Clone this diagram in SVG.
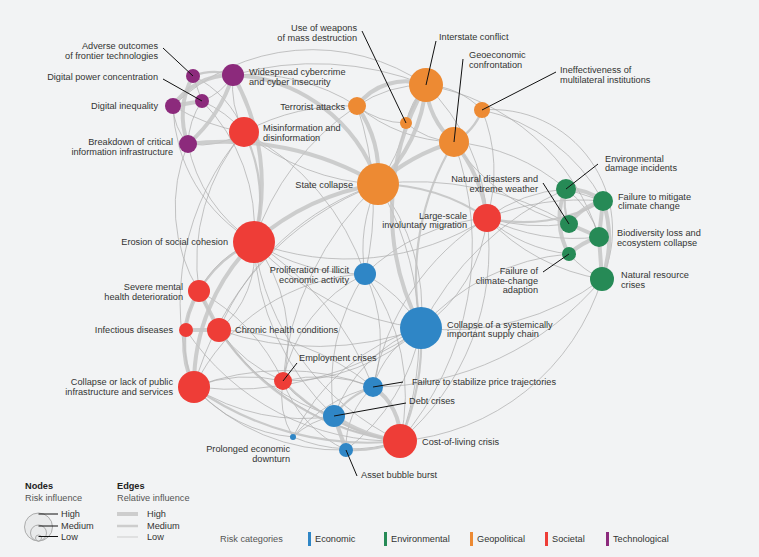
<svg xmlns="http://www.w3.org/2000/svg" width="759" height="557" viewBox="0 0 759 557">
<style>
text{font-family:"Liberation Sans",Arial,sans-serif;font-size:9.2px;fill:#333}
.e{text-anchor:end}
.b{font-weight:bold;fill:#222}
.g{fill:#555}
.s{stroke:#a9a9a9;stroke-width:0.9;fill:none;opacity:0.75}
.m{stroke:#c2c2c2;stroke-width:2.2;fill:none;opacity:0.85}
.t{stroke:#c6c6c6;stroke-width:4;fill:none;opacity:0.85}
.ld{stroke:#111;stroke-width:1;fill:none}
.ec{fill:#2f86c6}.en{fill:#268a56}.ge{fill:#ed8a33}.so{fill:#ee3d37}.te{fill:#8c2a7c}
</style>
<rect width="759" height="557" fill="#f2f3f4"/>
<g id="connectors" stroke-linecap="round">
<path class="s" d="M233,75 A300,300 0 0 1 426,85"/>
<path class="s" d="M173,106 A200,200 0 0 1 426,85"/>
<path class="s" d="M233,75 A200,200 0 0 1 357,106"/>
<path class="s" d="M244,132 A220,220 0 0 1 357,106"/>
<path class="s" d="M244,132 A220,220 0 0 0 378,184"/>
<path class="s" d="M244,132 A250,250 0 0 1 365,274"/>
<path class="s" d="M244,132 A200,200 0 0 0 199,291"/>
<path class="s" d="M244,132 A260,260 0 0 0 194,387"/>
<path class="s" d="M188,144 A160,160 0 0 0 199,291"/>
<path class="s" d="M188,144 A150,150 0 0 0 254,242"/>
<path class="s" d="M173,106 A160,160 0 0 0 254,242"/>
<path class="s" d="M202,101 A120,120 0 0 1 244,132"/>
<path class="s" d="M202,101 A180,180 0 0 1 254,242"/>
<path class="s" d="M193,76 A100,100 0 0 1 244,132"/>
<path class="s" d="M173,106 A60,60 0 0 0 188,144"/>
<path class="s" d="M193,76 L202,101"/>
<path class="s" d="M202,101 A80,80 0 0 0 188,144"/>
<path class="s" d="M202,101 A60,60 0 0 0 233,75"/>
<path class="s" d="M173,106 A200,200 0 0 0 244,132"/>
<path class="s" d="M357,106 A300,300 0 0 1 365,274"/>
<path class="s" d="M357,106 A260,260 0 0 0 254,242"/>
<path class="s" d="M357,106 A160,160 0 0 0 454,142"/>
<path class="s" d="M357,106 A80,80 0 0 0 406,123"/>
<path class="s" d="M406,123 A150,150 0 0 1 378,184"/>
<path class="s" d="M406,123 A80,80 0 0 0 454,142"/>
<path class="s" d="M406,123 A80,80 0 0 1 426,85"/>
<path class="s" d="M426,85 A200,200 0 0 1 487,218"/>
<path class="s" d="M426,85 A80,80 0 0 1 482,110"/>
<path class="s" d="M482,110 A160,160 0 0 1 487,218"/>
<path class="s" d="M482,110 A120,120 0 0 1 602,279"/>
<path class="s" d="M482,110 A180,180 0 0 1 603,201"/>
<path class="s" d="M426,85 A220,220 0 0 1 599,237"/>
<path class="s" d="M454,142 A200,200 0 0 1 566,189"/>
<path class="s" d="M454,142 A200,200 0 0 0 569,224"/>
<path class="s" d="M487,218 A150,150 0 0 1 566,189"/>
<path class="s" d="M487,218 A250,250 0 0 1 603,201"/>
<path class="s" d="M487,218 A200,200 0 0 0 569,224"/>
<path class="s" d="M487,218 A200,200 0 0 0 599,237"/>
<path class="s" d="M487,218 A150,150 0 0 0 569,254"/>
<path class="s" d="M487,218 A200,200 0 0 0 602,279"/>
<path class="s" d="M378,184 A300,300 0 0 1 569,224"/>
<path class="s" d="M421,328 A220,220 0 0 1 569,254"/>
<path class="s" d="M421,328 A250,250 0 0 0 602,279"/>
<path class="s" d="M400,441 A230,230 0 0 0 602,279"/>
<path class="s" d="M421,328 A150,150 0 0 0 487,218"/>
<path class="s" d="M365,274 A200,200 0 0 1 487,218"/>
<path class="s" d="M254,242 A260,260 0 0 0 487,218"/>
<path class="s" d="M254,242 A200,200 0 0 0 365,274"/>
<path class="s" d="M254,242 A260,260 0 0 0 421,328"/>
<path class="s" d="M254,242 A160,160 0 0 1 283,381"/>
<path class="s" d="M254,242 A250,250 0 0 0 334,416"/>
<path class="s" d="M254,242 A300,300 0 0 1 373,387"/>
<path class="s" d="M254,242 A100,100 0 0 1 219,330"/>
<path class="s" d="M378,184 A150,150 0 0 0 365,274"/>
<path class="s" d="M378,184 A200,200 0 0 1 421,328"/>
<path class="s" d="M378,184 A300,300 0 0 0 283,381"/>
<path class="s" d="M378,184 A300,300 0 0 0 194,387"/>
<path class="s" d="M378,184 A300,300 0 0 1 400,441"/>
<path class="s" d="M365,274 A150,150 0 0 1 421,328"/>
<path class="s" d="M365,274 A150,150 0 0 0 283,381"/>
<path class="s" d="M365,274 A200,200 0 0 0 334,416"/>
<path class="s" d="M365,274 A200,200 0 0 1 400,441"/>
<path class="s" d="M365,274 A150,150 0 0 1 373,387"/>
<path class="s" d="M421,328 A200,200 0 0 1 283,381"/>
<path class="s" d="M421,328 A150,150 0 0 0 334,416"/>
<path class="s" d="M421,328 A100,100 0 0 0 373,387"/>
<path class="s" d="M421,328 A200,200 0 0 1 346,450"/>
<path class="s" d="M421,328 A300,300 0 0 1 219,330"/>
<path class="s" d="M421,328 A320,320 0 0 1 194,387"/>
<path class="s" d="M219,330 A150,150 0 0 0 283,381"/>
<path class="s" d="M219,330 A200,200 0 0 0 334,416"/>
<path class="s" d="M219,330 A250,250 0 0 1 373,387"/>
<path class="s" d="M194,387 A150,150 0 0 1 283,381"/>
<path class="s" d="M194,387 A200,200 0 0 0 334,416"/>
<path class="s" d="M194,387 A200,200 0 0 0 346,450"/>
<path class="s" d="M194,387 A250,250 0 0 1 373,387"/>
<path class="s" d="M194,387 A150,150 0 0 0 293,437"/>
<path class="s" d="M199,291 A200,200 0 0 1 283,381"/>
<path class="s" d="M199,291 A250,250 0 0 0 400,441"/>
<path class="s" d="M199,291 A100,100 0 0 1 254,242"/>
<path class="s" d="M186,330 A80,80 0 0 1 199,291"/>
<path class="s" d="M186,330 A100,100 0 0 0 194,387"/>
<path class="s" d="M186,330 A250,250 0 0 0 400,441"/>
<path class="s" d="M283,381 A150,150 0 0 1 373,387"/>
<path class="s" d="M283,381 A100,100 0 0 0 334,416"/>
<path class="s" d="M283,381 A80,80 0 0 0 293,437"/>
<path class="s" d="M283,381 A120,120 0 0 0 346,450"/>
<path class="s" d="M293,437 A80,80 0 0 1 334,416"/>
<path class="s" d="M293,437 A150,150 0 0 0 400,441"/>
<path class="s" d="M293,437 A150,150 0 0 1 373,387"/>
<path class="s" d="M293,437 A200,200 0 0 1 421,328"/>
<path class="s" d="M373,387 A80,80 0 0 0 346,450"/>
<path class="s" d="M487,218 A250,250 0 0 1 400,441"/>
<path class="s" d="M454,142 A300,300 0 0 1 400,441"/>
<path class="s" d="M254,242 A260,260 0 0 0 400,441"/>
<path class="s" d="M426,85 A120,120 0 0 0 357,106"/>
<path class="s" d="M244,132 A100,100 0 0 1 233,75"/>
<path class="s" d="M188,144 A80,80 0 0 0 244,132"/>
<path class="s" d="M378,184 A260,260 0 0 0 219,330"/>
<path class="s" d="M365,274 A200,200 0 0 0 194,387"/>
<path class="s" d="M487,218 A250,250 0 0 0 373,387"/>
<path class="s" d="M566,189 A300,300 0 0 0 421,328"/>
<path class="s" d="M602,279 A300,300 0 0 1 373,387"/>
<path class="s" d="M566,189 L603,201"/>
<path class="s" d="M569,254 A100,100 0 0 0 602,279"/>
<path class="s" d="M566,189 A90,90 0 0 1 599,237"/>
<path class="m" d="M378,184 A200,200 0 0 1 487,218"/>
<path class="m" d="M454,142 A260,260 0 0 0 421,328"/>
<path class="m" d="M454,142 A60,60 0 0 0 482,110"/>
<path class="m" d="M219,330 A250,250 0 0 0 400,441"/>
<path class="m" d="M283,381 A200,200 0 0 0 400,441"/>
<path class="m" d="M194,387 A300,300 0 0 0 400,441"/>
<path class="m" d="M334,416 A80,80 0 0 1 373,387"/>
<path class="m" d="M346,450 A120,120 0 0 0 400,441"/>
<path class="m" d="M406,123 A150,150 0 0 1 426,85"/>
<path class="m" d="M193,76 A60,60 0 0 1 233,75"/>
<path class="m" d="M421,328 A250,250 0 0 1 400,441"/>
<path class="m" d="M244,132 A150,150 0 0 1 254,242"/>
<path class="m" d="M254,242 A120,120 0 0 0 199,291"/>
<path class="m" d="M566,189 A60,60 0 0 0 569,224"/>
<path class="m" d="M487,218 A160,160 0 0 0 603,201"/>
<path class="t" d="M357,106 A60,60 0 0 1 426,85"/>
<path class="t" d="M357,106 A120,120 0 0 1 378,184"/>
<path class="t" d="M426,85 A150,150 0 0 1 378,184"/>
<path class="t" d="M426,85 A80,80 0 0 0 454,142"/>
<path class="t" d="M378,184 A200,200 0 0 1 454,142"/>
<path class="t" d="M378,184 A250,250 0 0 0 254,242"/>
<path class="t" d="M233,75 A220,220 0 0 1 254,242"/>
<path class="t" d="M173,106 A70,70 0 0 1 233,75"/>
<path class="t" d="M188,144 A150,150 0 0 0 233,75"/>
<path class="t" d="M193,76 A80,80 0 0 0 188,144"/>
<path class="t" d="M173,106 L202,101"/>
<path class="t" d="M254,242 A200,200 0 0 0 194,387"/>
<path class="t" d="M199,291 A100,100 0 0 0 194,387"/>
<path class="t" d="M186,330 L219,330"/>
<path class="t" d="M199,291 L219,330"/>
<path class="t" d="M426,85 A250,250 0 0 0 421,328"/>
<path class="t" d="M454,142 A150,150 0 0 1 487,218"/>
<path class="t" d="M334,416 A150,150 0 0 0 400,441"/>
<path class="t" d="M373,387 A60,60 0 0 1 400,441"/>
<path class="t" d="M334,416 L346,450"/>
<path class="t" d="M569,224 A60,60 0 0 1 603,201"/>
<path class="t" d="M569,224 L599,237"/>
<path class="t" d="M599,237 L603,201"/>
<path class="t" d="M603,201 A120,120 0 0 1 602,279"/>
<path class="t" d="M599,237 L602,279"/>
<path class="t" d="M569,254 A80,80 0 0 1 599,237"/>
<path class="t" d="M566,189 A70,70 0 0 0 569,254"/>
<path class="t" d="M566,189 A60,60 0 0 1 603,201"/>
<path class="t" d="M188,144 A300,300 0 0 1 378,184"/>
<path class="t" d="M233,75 A160,160 0 0 1 378,184"/>
</g>
<g id="n-aoft"><circle class="te" cx="193" cy="76" r="7"/><path class="ld" d="M163,48 L193,76"/><text class="e" x="158" y="49">Adverse outcomes</text><text class="e" x="158" y="58.5">of frontier technologies</text></g>
<g id="n-cyb"><circle class="te" cx="233" cy="75" r="11"/><text x="249" y="75">Widespread cybercrime</text><text x="249" y="84.5">and cyber insecurity</text></g>
<g id="n-dpc"><circle class="te" cx="202" cy="101" r="7"/><path class="ld" d="M163,79 L202,101"/><text class="e" x="158" y="80">Digital power concentration</text></g>
<g id="n-din"><circle class="te" cx="173" cy="106" r="8"/><text class="e" x="158" y="109">Digital inequality</text></g>
<g id="n-bci"><circle class="te" cx="188" cy="144" r="9"/><text class="e" x="173" y="145">Breakdown of critical</text><text class="e" x="173" y="154.5">information infrastructure</text></g>
<g id="n-mis"><circle class="so" cx="244" cy="132" r="15"/><text x="263" y="131">Misinformation and</text><text x="263" y="140.5">disinformation</text></g>
<g id="n-ter"><circle class="ge" cx="357" cy="106" r="9"/><text class="e" x="345" y="110">Terrorist attacks</text></g>
<g id="n-wmd"><circle class="ge" cx="406" cy="123" r="6"/><path class="ld" d="M362,31 L406,123"/><text class="e" x="357" y="31">Use of weapons</text><text class="e" x="357" y="40.5">of mass destruction</text></g>
<g id="n-int"><circle class="ge" cx="426" cy="85" r="17"/><path class="ld" d="M436,41 L426,85"/><text x="439" y="40">Interstate conflict</text></g>
<g id="n-geo"><circle class="ge" cx="454" cy="142" r="15"/><path class="ld" d="M463,59 L454,142"/><text x="469" y="58">Geoeconomic</text><text x="469" y="67.5">confrontation</text></g>
<g id="n-imi"><circle class="ge" cx="482" cy="110" r="8"/><path class="ld" d="M556,72 L482,110"/><text x="560" y="73">Ineffectiveness of</text><text x="560" y="82.5">multilateral institutions</text></g>
<g id="n-sta"><circle class="ge" cx="378" cy="184" r="21"/><text class="e" x="353" y="187.5">State collapse</text></g>
<g id="n-mig"><circle class="so" cx="487" cy="218" r="14"/><text class="e" x="467" y="218.5">Large-scale</text><text class="e" x="467" y="228">involuntary migration</text></g>
<g id="n-edi"><circle class="en" cx="566" cy="189" r="10"/><path class="ld" d="M598,164 L566,189"/><text x="605" y="161.5">Environmental</text><text x="605" y="171">damage incidents</text></g>
<g id="n-fmc"><circle class="en" cx="603" cy="201" r="10"/><text x="618" y="199.5">Failure to mitigate</text><text x="618" y="209">climate change</text></g>
<g id="n-nde"><circle class="en" cx="569" cy="224" r="9"/><path class="ld" d="M543,183 L569,224"/><text class="e" x="538" y="182">Natural disasters and</text><text class="e" x="538" y="191.5">extreme weather</text></g>
<g id="n-bio"><circle class="en" cx="599" cy="237" r="10"/><text x="617" y="236">Biodiversity loss and</text><text x="617" y="245.5">ecosystem collapse</text></g>
<g id="n-fca"><circle class="en" cx="569" cy="254" r="7"/><path class="ld" d="M543,272 L569,254"/><text class="e" x="538" y="274">Failure of</text><text class="e" x="538" y="283.5">climate-change</text><text class="e" x="538" y="293">adaption</text></g>
<g id="n-nrc"><circle class="en" cx="602" cy="279" r="12"/><text x="621" y="278">Natural resource</text><text x="621" y="287.5">crises</text></g>
<g id="n-ero"><circle class="so" cx="254" cy="242" r="21"/><text class="e" x="228" y="245">Erosion of social cohesion</text></g>
<g id="n-ill"><circle class="ec" cx="365" cy="274" r="11"/><text class="e" x="349" y="273">Proliferation of illicit</text><text class="e" x="349" y="282.5">economic activity</text></g>
<g id="n-smh"><circle class="so" cx="199" cy="291" r="11"/><text class="e" x="183" y="290">Severe mental</text><text class="e" x="183" y="299.5">health deterioration</text></g>
<g id="n-inf"><circle class="so" cx="186" cy="330" r="7"/><text class="e" x="173" y="333">Infectious diseases</text></g>
<g id="n-chr"><circle class="so" cx="219" cy="330" r="12"/><text x="235" y="333">Chronic health conditions</text></g>
<g id="n-sup"><circle class="ec" cx="421" cy="328" r="21"/><text x="447" y="327.5">Collapse of a systemically</text><text x="447" y="337">important supply chain</text></g>
<g id="n-pub"><circle class="so" cx="194" cy="387" r="16"/><text class="e" x="173" y="385">Collapse or lack of public</text><text class="e" x="173" y="394.5">infrastructure and services</text></g>
<g id="n-emp"><circle class="so" cx="283" cy="381" r="9"/><path class="ld" d="M297,363 L283,381"/><text x="299" y="361">Employment crises</text></g>
<g id="n-fsp"><circle class="ec" cx="373" cy="387" r="10"/><path class="ld" d="M403,382 L373,387"/><text x="412" y="384.5">Failure to stabilize price trajectories</text></g>
<g id="n-deb"><circle class="ec" cx="334" cy="416" r="11"/><path class="ld" d="M406,403 L334,416"/><text x="409" y="403.5">Debt crises</text></g>
<g id="n-ped"><circle class="ec" cx="293" cy="437" r="3"/><text class="e" x="290" y="452">Prolonged economic</text><text class="e" x="290" y="461.5">downturn</text></g>
<g id="n-col"><circle class="so" cx="400" cy="441" r="17"/><text x="422" y="445">Cost-of-living crisis</text></g>
<g id="n-abb"><circle class="ec" cx="346" cy="450" r="7"/><path class="ld" d="M346,450 L357,476"/><text x="361" y="478">Asset bubble burst</text></g>
<g id="legend-nodes">
<text class="b" x="25" y="489">Nodes</text><text class="g" x="25" y="501">Risk influence</text>
<circle cx="38.5" cy="527" r="14" fill="#e9eaeb" stroke="#9a9a9a" stroke-width="0.8"/>
<circle cx="38.5" cy="533" r="8" fill="#e9eaeb" stroke="#9a9a9a" stroke-width="0.8"/>
<circle cx="38.5" cy="538" r="3" fill="#e9eaeb" stroke="#9a9a9a" stroke-width="0.8"/>
<path class="ld" d="M38.5,514 H58 M38.5,526 H58 M38.5,536.5 H58"/>
<text x="61" y="517">High</text><text x="61" y="528.5">Medium</text><text x="61" y="540">Low</text>
</g>
<g id="legend-edges">
<text class="b" x="117" y="489">Edges</text><text class="g" x="117" y="501">Relative influence</text>
<path d="M117,514 H138" stroke="#cdcdcd" stroke-width="4"/>
<path d="M117,526 H138" stroke="#cdcdcd" stroke-width="2.5"/>
<path d="M117,537 H138" stroke="#cdcdcd" stroke-width="1"/>
<text x="147" y="517">High</text><text x="147" y="528.5">Medium</text><text x="147" y="540">Low</text>
</g>
<g id="legend-categories">
<text class="g" x="220" y="542">Risk categories</text>
<rect class="ec" x="308" y="532" width="3" height="14"/><text x="315" y="542">Economic</text>
<rect class="en" x="384" y="532" width="3" height="14"/><text x="391" y="542">Environmental</text>
<rect class="ge" x="470" y="532" width="3" height="14"/><text x="477" y="542">Geopolitical</text>
<rect class="so" x="545" y="532" width="3" height="14"/><text x="552" y="542">Societal</text>
<rect class="te" x="606" y="532" width="3" height="14"/><text x="613" y="542">Technological</text>
</g>
</svg>
